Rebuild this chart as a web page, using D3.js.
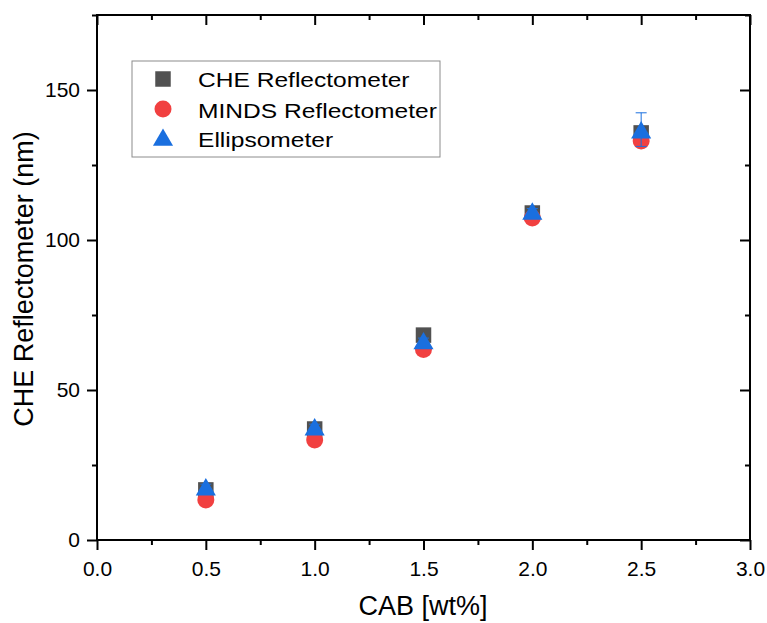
<!DOCTYPE html>
<html lang="en">
<head>
<meta charset="utf-8">
<title>CHE Reflectometer vs CAB</title>
<style>
    body { margin: 0; background: #fff; font-family: "Liberation Sans", Arial, sans-serif; }
    .axis line { stroke: #000; stroke-width: 2px; }
    .axis text { font-size: 21px; fill: #000; font-family: "Liberation Sans", Arial, sans-serif; }
    .title { font-size: 27px; text-anchor: middle; }
    .legend text { font-size: 21px; }
</style>
</head>
<body>
<script src="https://d3js.org/d3.v7.min.js" charset="utf-8"></script>
<script>
    var cab = [0.5, 1.0, 1.5, 2.0, 2.5]
    var cheValues = [16.7, 37.0, 68.3, 109.0, 135.7]
    var cheErrors = [1.0, 1.0, 1.2, 1.0, 1.5]
    var mindsValues = [13.3, 33.3, 63.5, 107.3, 133.0]
    var ellipValues = [17.8, 37.8, 66.5, 109.7, 136.8]
    var ellipErrors = [0.8, 0.8, 0.8, 0.8, 5.6]
    var seriesNames = ['CHE Reflectometer', 'MINDS Reflectometer', 'Ellipsometer']
    var xTicks = [0, 0.5, 1.0, 1.5, 2.0, 2.5, 3.0]
    var yTicks = [0, 50, 100, 150]

    var width = 767, height = 623
    var margin = {left: 97, right: 17, top: 15, bottom: 83}
    var colors = ['#515151', '#F14040', '#1A6FDF']

    var svg = d3.select('body').append('svg')
        .attr('width', width)
        .attr('height', height)

    var x = d3.scaleLinear().domain([0, 3]).range([margin.left, width - margin.right])
    var y = d3.scaleLinear().domain([0, 175]).range([height - margin.bottom, margin.top])

    var minorX = d3.range(0.25, 3, 0.5)
    var minorY = d3.range(25, 176, 50)

    // major + minor ticks on all four sides
    function addAxis(axisFn, scale, transform, major, minor, fmt, inner, pad) {
        var g = svg.append('g').attr('class', 'axis').attr('transform', transform)
        g.call(axisFn(scale).tickValues(major).tickSize(inner ? -10 : 10).tickPadding(pad).tickFormat(fmt))
        g.select('.domain').remove()
        var m = svg.append('g').attr('class', 'axis').attr('transform', transform)
        m.call(axisFn(scale).tickValues(minor).tickSize(inner ? -5 : 5).tickFormat(''))
        m.select('.domain').remove()
        return g
    }
    addAxis(d3.axisBottom, x, 'translate(0,' + y(0) + ')', xTicks, minorX, d3.format('.1f'), false, 11)
    addAxis(d3.axisLeft, y, 'translate(' + x(0) + ',0)', yTicks, minorY, d3.format('d'), false, 7)
    addAxis(d3.axisTop, x, 'translate(0,' + y(175) + ')', xTicks, minorX, '', true, 0)
    addAxis(d3.axisRight, y, 'translate(' + x(3) + ',0)', yTicks, minorY, '', true, 0)

    svg.append('rect')
        .attr('x', x(0)).attr('y', y(175))
        .attr('width', x(3) - x(0)).attr('height', y(0) - y(175))
        .attr('fill', 'none').attr('stroke', '#000').attr('stroke-width', 2)

    // axis titles
    svg.append('text').attr('class', 'title')
        .attr('x', 423).attr('y', 615)
        .text('CAB [wt%]')
    svg.append('text').attr('class', 'title')
        .attr('transform', 'translate(33,279) rotate(-90)')
        .text('CHE Reflectometer (nm)')

    var symbols = [d3.symbolSquare, d3.symbolCircle, d3.symbolTriangle]
    var symSizes = [240, 227, 175]

    function errorBars(vals, errs, color) {
        var g = svg.append('g').attr('stroke', color).attr('stroke-width', 1)
        cab.forEach(function(c, i) {
            g.append('line').attr('x1', x(c)).attr('x2', x(c))
                .attr('y1', y(vals[i] - errs[i])).attr('y2', y(vals[i] + errs[i]))
            g.append('line').attr('x1', x(c) - 5.5).attr('x2', x(c) + 5.5)
                .attr('y1', y(vals[i] + errs[i])).attr('y2', y(vals[i] + errs[i]))
            g.append('line').attr('x1', x(c) - 5.5).attr('x2', x(c) + 5.5)
                .attr('y1', y(vals[i] - errs[i])).attr('y2', y(vals[i] - errs[i]))
        })
    }

    function points(vals, k) {
        svg.append('g').selectAll('path')
            .data(vals)
            .enter().append('path')
            .attr('d', d3.symbol().type(symbols[k]).size(symSizes[k]))
            .attr('transform', function(d, i) {
                var dy = k === 2 ? 3 : 0
                return 'translate(' + x(cab[i]) + ',' + (y(d) + dy) + ')'
            })
            .attr('fill', colors[k])
    }

    errorBars(cheValues, cheErrors, colors[0])
    points(cheValues, 0)
    points(mindsValues, 1)
    errorBars(ellipValues, ellipErrors, colors[2])
    points(ellipValues, 2)

    // legend
    var legend = svg.append('g').attr('class', 'legend')
    legend.append('rect')
        .attr('x', 132).attr('y', 61).attr('width', 308).attr('height', 96)
        .attr('fill', '#fff').attr('stroke', '#8c8c8c').attr('stroke-width', 1)
    var rowY = [79, 109, 140]
    var baseY = [87, 118, 147]
    seriesNames.forEach(function(name, k) {
        legend.append('path')
            .attr('d', d3.symbol().type(symbols[k]).size(symSizes[k]))
            .attr('transform', 'translate(163,' + rowY[k] + ')')
            .attr('fill', colors[k])
        legend.append('text')
            .attr('transform', 'translate(198,' + baseY[k] + ') scale(1.17,1)')
            .text(name)
    })
</script>
</body>
</html>
